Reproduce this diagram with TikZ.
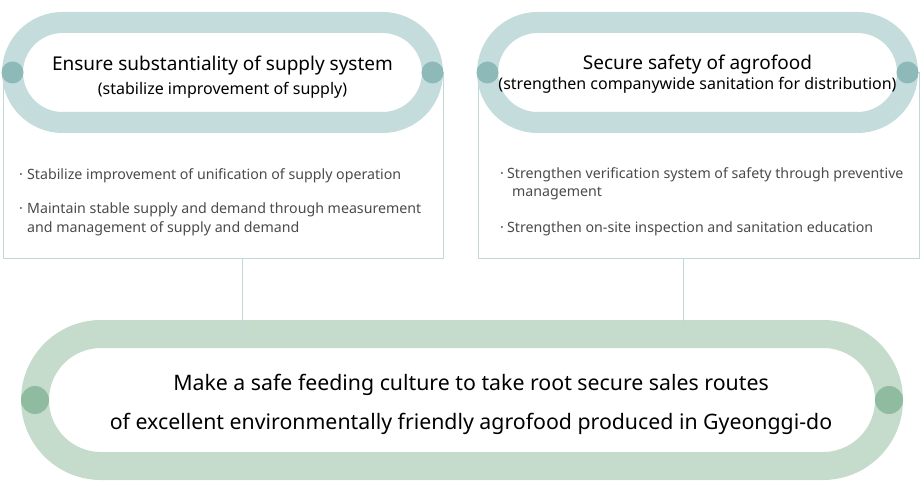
\documentclass[tikz,border=0pt]{standalone}
\usepackage{fontspec}
\setmainfont{Noto Sans}
\usepackage{tikz}
\usetikzlibrary{positioning,calc}

\definecolor{bandTeal}{HTML}{C4DCDC}
\definecolor{dotTeal}{HTML}{8DB9B9}
\definecolor{bandGreen}{HTML}{C5DCCD}
\definecolor{dotGreen}{HTML}{8FBCA0}
\definecolor{boxLine}{HTML}{BFD9D9}
\definecolor{bulText}{HTML}{4A4A4A}

\newcommand{\bul}[1]{\makebox[#1][l]{\textperiodcentered}}

\tikzset{
	toppill/.style={draw=bandTeal, line width=21pt, fill=white, rectangle,
		rounded corners=50pt, minimum width=420pt, minimum height=100pt,
		outer sep=0pt},
	goalpill/.style={draw=bandGreen, line width=28pt, fill=white, rectangle,
		rounded corners=66pt, minimum width=854pt, minimum height=132pt,
		outer sep=0pt},
	title/.style={align=center, inner sep=0pt},
	goaltext/.style={align=center, inner sep=0pt, font=\fontsize{21.3}{39}\selectfont},
	knob/.style={circle, fill=#1, inner sep=0pt},
	listbox/.style={draw=boxLine, line width=0.8pt, rectangle, minimum height=186pt,
		outer sep=0pt},
	bullets/.style={anchor=base west, align=left, inner sep=0pt, text=bulText,
		font=\fontsize{14.2}{19}\selectfont},
	wire/.style={draw=boxLine, line width=0.8pt}
}

\begin{document}
\begin{tikzpicture}[x=1pt,y=-1pt]
	\useasboundingbox (0,0) rectangle (920,494);

	% boxes with the measures
	\node[listbox, minimum width=440pt] (lbox) at (223,165) {};
	\node[listbox, minimum width=441pt] (rbox) at (698.5,165) {};

	% the two goals on top
	\node[toppill] (lpill) at (222.5,72.5) {};
	\node[toppill] (rpill) at (697.5,72.5) {};
	\node[title] (ltitle) at ($(lpill.center)+(0,4.5)$) {
		{\fontsize{19}{24}\selectfont Ensure substantiality of supply system}\\[6pt]
		{\fontsize{16}{20}\selectfont (stabilize improvement of supply)}
	};
	\node[title] (rtitle) at ($(rpill.center)+(0,2)$) {
		{\fontsize{19}{22}\selectfont Secure safety of agrofood}\\[2pt]
		{\fontsize{16}{20}\selectfont (strengthen companywide sanitation for distribution)}
	};
	\node[knob=dotTeal, minimum size=22pt] (lpillW) at (lpill.west) {};
	\node[knob=dotTeal, minimum size=22pt] (lpillE) at (lpill.east) {};
	\node[knob=dotTeal, minimum size=22pt] (rpillW) at (rpill.west) {};
	\node[knob=dotTeal, minimum size=22pt] (rpillE) at (rpill.east) {};

	% measures (base anchor sits on the last line)
	\node[bullets] (lbul1) at (19,180) {\bul{8pt}Stabilize improvement of unification of supply operation};
	\node[bullets] (lbul2) at (19,233) {\bul{8pt}Maintain stable supply and demand through measurement\\
		\hspace*{8pt}and management of supply and demand};
	\node[bullets, font=\fontsize{14.2}{18}\selectfont] (rbul1) at (500,197) {\bul{7pt}Strengthen verification system of safety through preventive\\
		\hspace*{12pt}management};
	\node[bullets] (rbul2) at (500,233) {\bul{7pt}Strengthen on-site inspection and sanitation education};

	% the common goal
	\node[goalpill] (goal) at (462,400) {};
	\node[goaltext] (goalmsg) at ($(goal.center)+(9,4)$) {Make a safe feeding culture to take root secure sales routes\\
		of excellent environmentally friendly agrofood produced in Gyeonggi-do};
	\node[knob=dotGreen, minimum size=28pt] (goalW) at (goal.west) {};
	\node[knob=dotGreen, minimum size=28pt] (goalE) at (goal.east) {};

	% links
	\draw[wire] (lbox.south) ++(19,0) coordinate (lfoot) -- (lfoot |- goal.north);
	\draw[wire] (rbox.south) ++(-15.5,0) coordinate (rfoot) -- (rfoot |- goal.north);
\end{tikzpicture}
\end{document}
